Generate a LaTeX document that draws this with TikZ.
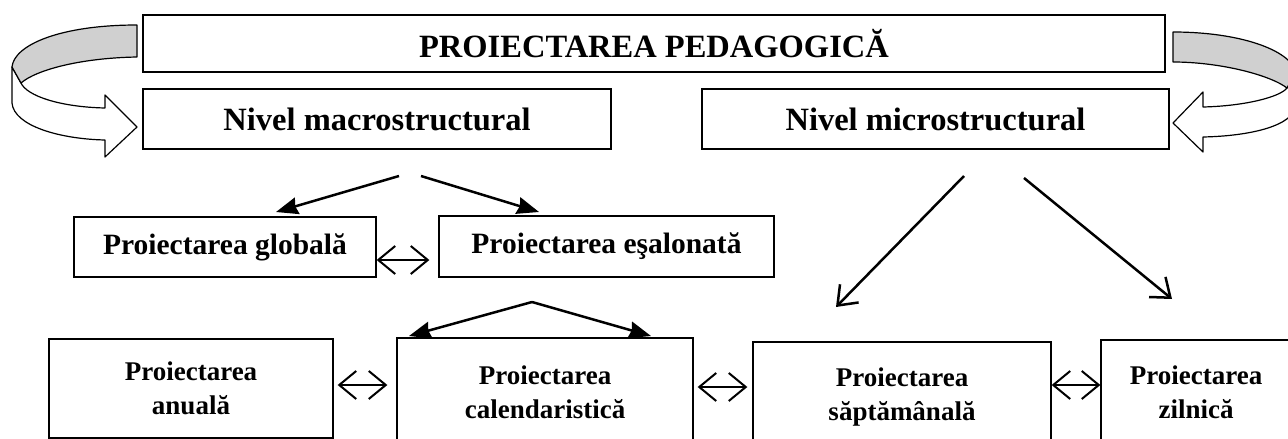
\documentclass[tikz,border=0pt]{standalone}
\usepackage{fontspec}
\setmainfont{Liberation Serif}
\usetikzlibrary{arrows.meta}
\begin{document}
\begin{tikzpicture}[x=1pt,y=-1pt,
  box/.style={draw, line width=1.3pt, rectangle, inner sep=0pt, align=center},
  fbig/.style={font=\bfseries\fontsize{32.5}{36}\selectfont},
  fmid/.style={font=\bfseries\fontsize{29.5}{33}\selectfont},
  fsmall/.style={font=\bfseries\fontsize{27}{34}\selectfont},
  solidarrow/.style={line width=2.5pt, -{Stealth[length=22pt,width=17pt,inset=2pt]}},
  openarrow/.style={line width=2.5pt, -{Straight Barb[length=17pt,width=26pt]}},
  dblarrow/.style={line width=2pt, {Straight Barb[length=17pt,width=28pt]}-{Straight Barb[length=17pt,width=28pt]}},
  curvefill/.style={draw, line width=1.2pt, line join=round}
]
\clip (0,0) rectangle (1288,439);
\fill[white] (0,0) rectangle (1288,439);

% boxes
\node[box, fbig, minimum width=1022pt, minimum height=57pt] (title) at (654,43.5) {PROIECTAREA PEDAGOGICĂ};
\node[box, fbig, minimum width=468pt, minimum height=60pt] (macro) at (377,119) {Nivel macrostructural};
\node[box, fbig, minimum width=467pt, minimum height=60pt] (micro) at (935.5,119) {Nivel microstructural};
\node[box, fmid, minimum width=302pt, minimum height=60pt] (glob) at (225,247) {Proiectarea globală};
\node[box, fmid, minimum width=335pt, minimum height=61pt] (esal) at (606.5,246.5) {Proiectarea eşalonată};
\node[box, fsmall, minimum width=284pt, minimum height=99pt] (anual) at (191,388.5) {Proiectarea\\anuală};
\node[box, fsmall, minimum width=296pt, minimum height=108pt] (cal) at (545,392) {Proiectarea\\calendaristică};
\node[box, fsmall, minimum width=298pt, minimum height=110pt] (sapt) at (902,397) {Proiectarea\\săptămânală};
\node[box, fsmall, minimum width=190pt, minimum height=104pt] (zil) at (1196,392) {Proiectarea\\zilnică};

% free ends of connectors
\coordinate (mL0) at (399,176);
\coordinate (mL1) at (276,212);
\coordinate (mR0) at (421,176);
\coordinate (mR1) at (539,212);
\coordinate (apex) at (532,302);
\coordinate (cL) at (409,336);
\coordinate (cR) at (651,336);
\coordinate (uL0) at (964,176);
\coordinate (uL1) at (836,307);
\coordinate (uR0) at (1024,178);
\coordinate (uR1) at (1172,299);
\coordinate (row2) at (0,260);
\coordinate (row3) at (0,385);
\coordinate (row3b) at (0,387);

% connectors
\draw[solidarrow] (mL0) -- (mL1);
\draw[solidarrow] (mR0) -- (mR1);
\draw[solidarrow] (apex) -- (cL);
\draw[solidarrow] (apex) -- (cR);
\draw[openarrow] (uL0) -- (uL1);
\draw[openarrow] (uR0) -- (uR1);
\draw[dblarrow, shorten >=9pt] (glob.east |- row2) -- (esal.west |- row2);
\draw[dblarrow, shorten <=4pt, shorten >=9pt] (anual.east |- row3) -- (cal.west |- row3);
\draw[dblarrow, shorten <=4pt, shorten >=5pt] (cal.east |- row3b) -- (sapt.west |- row3b);
\draw[dblarrow] (sapt.east |- row3) -- (zil.west |- row3);

% left curved arrow
\path[curvefill, fill=white] (12,67) -- (12,103) .. controls (14,126) and (60,139) .. (105,140)
  -- (105,157) -- (137,127) -- (105,95) -- (105,108)
  .. controls (60,107) and (27,96) .. (21,83) -- cycle;
\path[curvefill, fill={rgb,255:red,208;green,208;blue,208}] (137,25) .. controls (60,25) and (14,45) .. (12,67)
  -- (21,83) .. controls (36,70) and (80,58) .. (137,57) -- cycle;

% right curved arrow
\path[curvefill, fill=white] (1296,72) -- (1296,105) .. controls (1294,126) and (1250,136) .. (1203,137)
  -- (1203,152) -- (1173,123) -- (1203,92) -- (1203,107)
  .. controls (1245,106) and (1280,97) .. (1287,88) -- cycle;
\path[curvefill, fill={rgb,255:red,208;green,208;blue,208}] (1173,32) .. controls (1240,32) and (1290,50) .. (1296,72)
  -- (1287,88) .. controls (1270,75) and (1220,62) .. (1173,62) -- cycle;
\end{tikzpicture}
\end{document}
